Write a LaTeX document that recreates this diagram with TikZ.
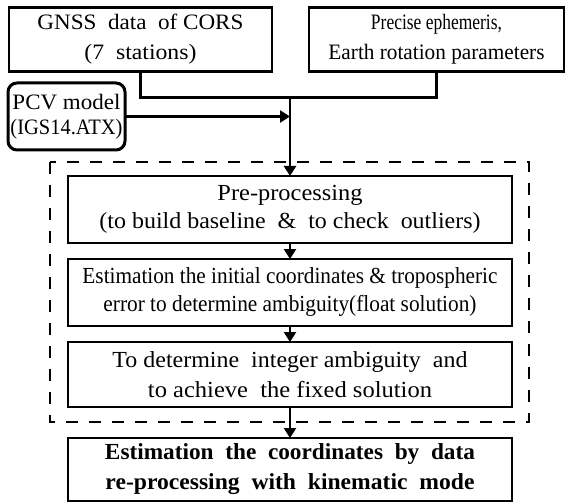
\documentclass[tikz,border=0pt]{standalone}
\usepackage{fontspec}
\setmainfont{Liberation Serif}
\usetikzlibrary{arrows.meta}
% stretch or squeeze one line of text to a given width (pt), keeping its height
\newcommand{\fw}[2]{\resizebox{#1pt}{\height}{#2}}
% a wider word gap
\newcommand{\wsp}{\hspace{0.5em}}
\begin{document}
\begin{tikzpicture}[x=1pt,y=-1pt,
  box/.style={draw, line width=2.6pt, rectangle, inner sep=0pt, outer sep=0pt, align=center},
  roundbox/.style={box, rounded corners=9pt, line width=3pt},
  txtA/.style={font=\fontsize{22}{30}\selectfont},
  txtB/.style={font=\fontsize{23}{28}\selectfont},
  txtC/.style={font=\fontsize{23}{30}\selectfont},
  link/.style={line width=2.6pt},
  arr/.style={link, -{Triangle[length=10pt,width=12pt]}},
  groupline/.style={line width=2.6pt, dash pattern=on 12pt off 11pt}]
\useasboundingbox (0,0) rectangle (566,503);

% input data
\node[box, txtA, minimum width=263pt, minimum height=64pt] (gnss) at (140.5,39.5)
  {\fw{206}{GNSS\wsp data\wsp of CORS}\\\fw{112}{(7\wsp stations)}};
\node[box, txtA, minimum width=255pt, minimum height=64pt] (eph) at (436.5,39.5)
  {\fw{131}{Precise ephemeris,}\\\fw{216}{Earth rotation parameters}};
\node[roundbox, font=\fontsize{22}{25}\selectfont, minimum width=117pt, minimum height=67pt] (pcv) at (66.5,116.5)
  {\fw{108}{PCV model}\\\fw{112}{(IGS14.ATX)}};

% processing steps
\node[box, txtB, minimum width=444pt, minimum height=67pt] (pre) at (290,209.5)
  {\fw{145}{Pre-processing}\\\fw{381}{(to build baseline\wsp \&\wsp to check\wsp outliers)}};
\node[box, txtB, minimum width=444pt, minimum height=67pt] (est) at (290,292.5)
  {\fw{415}{Estimation the initial coordinates \& tropospheric}\\\fw{373}{error to determine ambiguity(float solution)}};
\node[box, txtC, minimum width=444pt, minimum height=65pt] (int) at (290,374.5)
  {\fw{355}{To determine\wsp integer ambiguity\wsp and}\\\fw{284}{to achieve\wsp the fixed solution}};
\node[box, font=\fontsize{23}{30}\selectfont\bfseries, minimum width=444pt, minimum height=63pt] (fin) at (290,469.5)
  {\fw{370}{Estimation\wsp the\wsp coordinates\wsp by\wsp data}\\\fw{369}{re-processing\wsp with\wsp kinematic\wsp mode}};

% dashed frame around the core processing
\draw[groupline] (50,162) rectangle (529,422);

% connectors
\coordinate (join) at (290,97.5);
\draw[link] (gnss.south) |- (join) -| (eph.south);
\draw[arr] (join) -- (pre.north);
\draw[arr] (pcv.east) -- (pcv.east -| join);
\draw[arr] (pre.south) -- (est.north);
\draw[arr] (est.south) -- (int.north);
\draw[arr] (int.south) -- (fin.north);
\end{tikzpicture}
\end{document}
